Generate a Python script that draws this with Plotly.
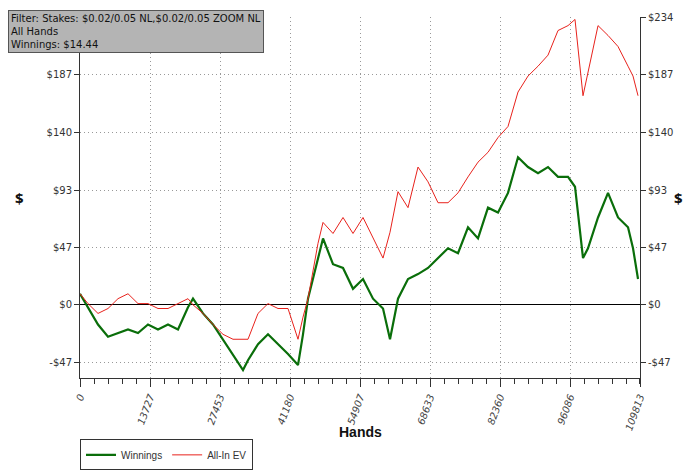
import plotly.graph_objects as go

hands = [0, 1569, 3530, 5491, 7452, 9413, 11374, 13335, 15296, 17257, 19218, 21179,
         22159, 24120, 26081, 28042, 30003, 31964, 32944, 34905, 36866, 38827, 40788,
         42749, 43729, 44710, 46671, 47652, 49613, 51574, 53535, 55496, 57457, 59418,
         60791, 62360, 64321, 66282, 68243, 70204, 72165, 74126, 76087, 78048, 80009,
         81970, 83931, 85892, 87853, 89814, 91775, 93736, 95697, 97069, 98638, 99619,
         101580, 103541, 105502, 107463, 108443, 109424]
winnings = [9, -2, -16, -26, -23, -20, -23, -16, -20, -16, -20, -2,
            5, -7, -16, -28, -40, -53, -45, -32, -24, -32, -40,
            -49, -24, 5, 38, 54, 33, 30, 13, 21, 5, -3,
            -28, 5, 21, 25, 30, 38, 46, 42, 63, 54, 79,
            75, 91, 120, 112, 107, 112, 104, 104, 96, 38, 46,
            71, 91, 71, 63, 46, 21]
allin_ev = [9, 1, -7, -3, 5, 9, 1, 1, -3, -3, 1, 5,
            0, -7, -16, -24, -28, -28, -28, -7, 1, -3, -3,
            -28, -10, 5, 50, 67, 58, 71, 58, 71, 54, 38,
            59, 92, 79, 112, 100, 83, 83, 91, 104, 116, 124,
            136, 145, 173, 186, 194, 203, 223, 227, 232, 170, 190,
            227, 219, 210, 194, 186, 170]

x_ticks = [0, 13727, 27453, 41180, 54907, 68633, 82360, 96086, 109813]
x_labels = [str(v) for v in x_ticks]
y_ticks = [-47, 0, 47, 93, 140, 187, 234]
y_labels = ["-$47", "$0", "$47", "$93", "$140", "$187", "$234"]

fig = go.Figure()
fig.add_trace(go.Scatter(x=hands, y=winnings, name="Winnings", mode="lines",
                         line=dict(color="#0a6e0a", width=2.2)))
fig.add_trace(go.Scatter(x=hands, y=allin_ev, name="All-In EV", mode="lines",
                         line=dict(color="#e8221c", width=1)))
fig.add_trace(go.Scatter(x=hands, y=winnings, yaxis="y2", showlegend=False,
                         mode="lines", line=dict(width=0), hoverinfo="skip"))

yax = dict(range=[-59.5, 234], tickvals=y_ticks, ticktext=y_labels, showgrid=True,
           gridcolor="#999", griddash="1px,3px", gridwidth=1, ticks="outside",
           tickcolor="#333", showline=True, linecolor="#333", automargin=False,
           tickfont=dict(family="DejaVu Sans", size=10, color="#333"),
           zeroline=True, zerolinecolor="#000", zerolinewidth=1)

fig.update_layout(
    width=700, height=470,
    paper_bgcolor="white", plot_bgcolor="white",
    margin=dict(l=72, r=68, t=9, b=100, autoexpand=False),
    xaxis=dict(range=[0, 109813], tickvals=x_ticks, ticktext=x_labels, tickangle=-70,
               showgrid=True, gridcolor="#999", griddash="1px,3px", ticks="outside",
               ticklen=8, tickcolor="#333", showline=True, linecolor="#333", automargin=False,
               minor=dict(ticks="outside", ticklen=5, dtick=2745.3, tick0=0, tickcolor="#333"),
               tickfont=dict(family="DejaVu Sans", size=10, color="#444", style="italic"),
               zeroline=False),
    yaxis=yax,
    yaxis2=dict(yax, overlaying="y", side="right", showgrid=False, zeroline=False),
    legend=dict(orientation="h", x=0.0, y=-0.17, xanchor="left", yanchor="top",
                bordercolor="#333", borderwidth=1, itemwidth=30,
                font=dict(family="Liberation Sans Narrow, Liberation Sans", size=10, color="#333")),
    showlegend=True,
)

fig.add_annotation(text="<b>Hands</b>", xref="paper", yref="paper", x=0.5, y=-0.178,
                   showarrow=False, font=dict(family="Liberation Sans", size=14, color="#111"))
fig.add_annotation(text="<b>$</b>", xref="paper", yref="paper", x=-0.12, y=0.5,
                   showarrow=False, font=dict(size=15, color="#111"))
fig.add_annotation(text="<b>$</b>", xref="paper", yref="paper", x=1.08, y=0.5,
                   showarrow=False, font=dict(size=15, color="#111"))
fig.add_annotation(text="Filter: Stakes: $0.02/0.05 NL,$0.02/0.05 ZOOM NL<br>All Hands<br>Winnings: $14.44",
                   xref="paper", yref="paper", x=-0.128, y=1.02, xanchor="left", yanchor="top",
                   align="left", showarrow=False, bgcolor="#b4b4b4", bordercolor="#555",
                   borderwidth=1, borderpad=2,
                   font=dict(family="DejaVu Sans", size=10, color="#111"))

fig.write_html("out.html")
